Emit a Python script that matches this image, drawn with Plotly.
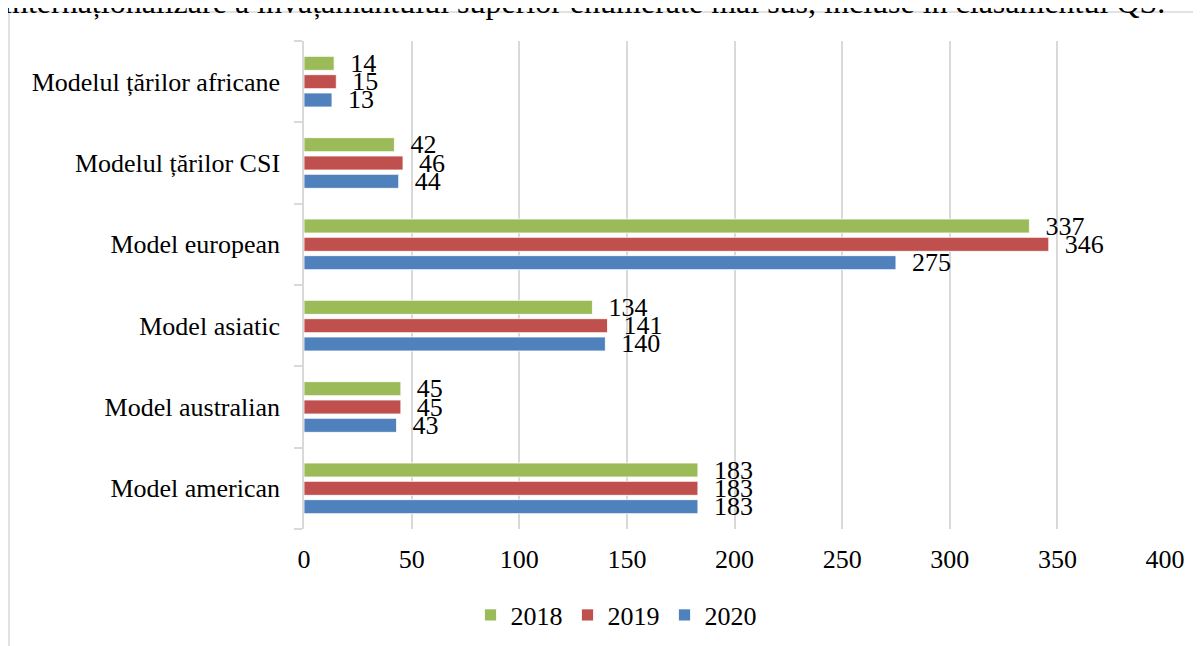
import plotly.graph_objects as go

categories = ["Model american", "Model australian", "Model asiatic",
              "Model european", "Modelul țărilor CSI", "Modelul țărilor africane"]
v2018 = [183, 45, 134, 337, 42, 14]
v2019 = [183, 45, 141, 346, 46, 15]
v2020 = [183, 43, 140, 275, 44, 13]
x_ticks = [0, 50, 100, 150, 200, 250, 300, 350, 400]

FONT = "Liberation Serif, Times New Roman, serif"
OFF = 8  # page body margin
W, H = 1201 - OFF, 646 - OFF
L, R, T, B = 304 - OFF, 36, 41 - OFF, 117
pw, ph = W - L - R, H - T - B


def px(xp):
    return (xp - OFF - L) / pw


def py(yp):
    return (T + ph - (yp - OFF)) / ph


series = [("2020", v2020, "#4F81BD"), ("2019", v2019, "#C0504D"), ("2018", v2018, "#9BBB59")]

fig = go.Figure()
for name, vals, col in series:
    fig.add_trace(go.Bar(
        y=categories, x=vals, name=name, orientation="h",
        marker=dict(color=col, line=dict(color="white", width=0.8)),
        text=vals, texttemplate="\u00a0\u00a0%{x}", textposition="outside",
        textfont=dict(family=FONT, size=26, color="black"),
        constraintext="none", cliponaxis=False,
    ))

fig.update_layout(
    width=W, height=H,
    margin=dict(l=L, r=R, t=T, b=B, autoexpand=False),
    paper_bgcolor="white", plot_bgcolor="white",
    barmode="group", bargap=0.324, bargroupgap=0.235,
    font=dict(family=FONT, size=26, color="black"),
    xaxis=dict(range=[0, 400], tickvals=x_ticks, showgrid=True, gridcolor="#d9d9d9",
               gridwidth=1.5, zeroline=False, showline=False, ticks="",
               ticklabelstandoff=12, tickfont=dict(family=FONT, size=26)),
    yaxis=dict(type="category", showline=True, linecolor="#d9d9d9", linewidth=1.5,
               ticks="outside", tickson="boundaries", ticklen=8, tickcolor="#d9d9d9",
               tickwidth=1.5, showgrid=False, ticklabelstandoff=17,
               tickfont=dict(family=FONT, size=26)),
    legend=dict(orientation="h", traceorder="reversed", x=px(616), xanchor="center",
                y=py(615), yanchor="middle", font=dict(family=FONT, size=26),
                bgcolor="rgba(0,0,0,0)"),
    showlegend=True,
    shapes=[dict(type="rect", xref="paper", yref="paper",
                 x0=px(9), x1=px(1240),
                 y0=py(700), y1=py(12),
                 line=dict(color="#d9d9d9", width=1.5), fillcolor="rgba(0,0,0,0)",
                 layer="below")],
    annotations=[dict(text="internaționalizare a învățământului superior enumerate mai sus, incluse în clasamentul QS.",
                      xref="paper", yref="paper", x=px(1167), xanchor="right",
                      y=py(22), yanchor="bottom", showarrow=False,
                      font=dict(family=FONT, size=32, color="black"))],
)

fig.write_html("out.html")
